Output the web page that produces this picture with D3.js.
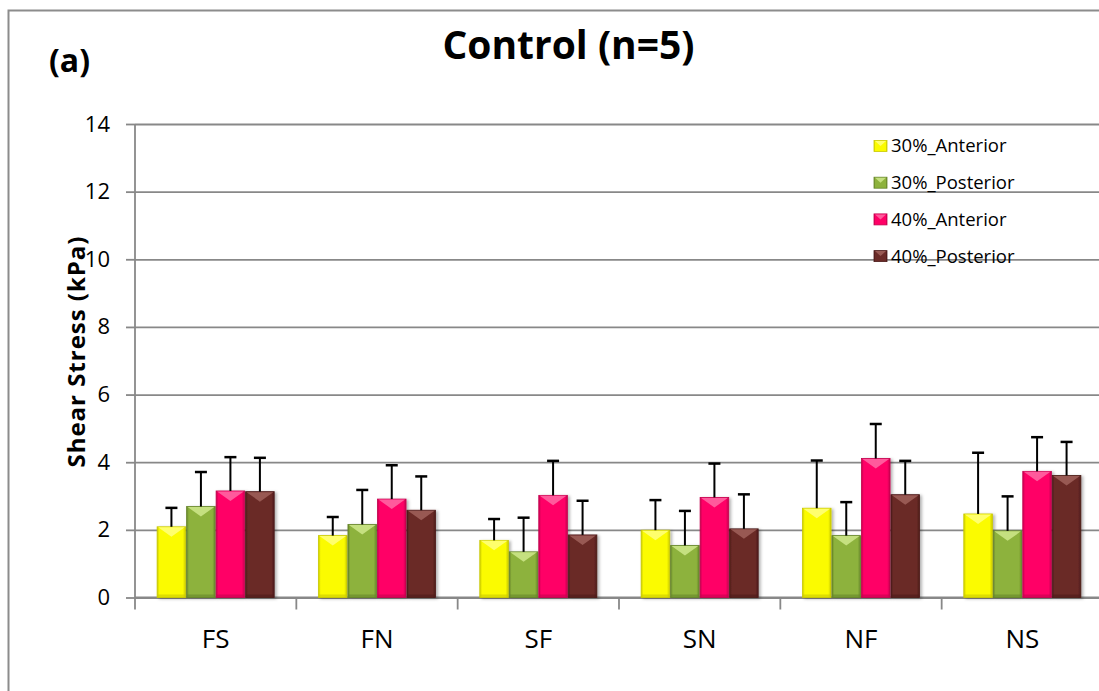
<!DOCTYPE html>
<html>
<head>
<meta charset="utf-8">
<script src="https://cdn.jsdelivr.net/npm/d3@7"></script>
<style>
  body { margin: 0; background: #fff; }
  svg { display: block; font-family: "Open Sans", "Noto Sans", sans-serif; }
</style>
</head>
<body>
<svg width="1099" height="691"></svg>
<script>
// data
const categories = ["FS", "FN", "SF", "SN", "NF", "NS"];
const seriesNames = ["30%_Anterior", "30%_Posterior", "40%_Anterior", "40%_Posterior"];
const ant30 = [2.09, 1.83, 1.69, 1.99, 2.64, 2.47];
const post30 = [2.69, 2.16, 1.35, 1.54, 1.83, 1.97];
const ant40 = [3.15, 2.91, 3.02, 2.96, 4.11, 3.73];
const post40 = [3.13, 2.58, 1.85, 2.03, 3.04, 3.61];
const ant30Sd = [0.56, 0.55, 0.63, 0.89, 1.41, 1.81];
const post30Sd = [1.02, 1.02, 1.01, 1.02, 0.99, 1.02];
const ant40Sd = [1.0, 1.0, 1.02, 1.0, 1.02, 1.01];
const post40Sd = [1.0, 1.0, 1.01, 1.02, 1.0, 0.99];
const yTicks = [0, 2, 4, 6, 8, 10, 12, 14];

const means = [ant30, post30, ant40, post40];
const sds = [ant30Sd, post30Sd, ant40Sd, post40Sd];

// colours: base, light (top bevel), dark (edges)
const colors = [
	{ base: "#fbfb00", light: "#ffff80", dark: "#c9c900" },
	{ base: "#8db23c", light: "#cfe88c", dark: "#66852a" },
	{ base: "#ff0066", light: "#ff6aa6", dark: "#c4004e" },
	{ base: "#6a2a27", light: "#a0615c", dark: "#4c1b19" }
];

const svg = d3.select("svg");
const defs = svg.append("defs");

//* gradients for the bevel look
colors.forEach((c, i) => {
	const g = defs.append("linearGradient").attr("id", "grad" + i).attr("x1", 0).attr("x2", 1).attr("y1", 0).attr("y2", 0);
	g.append("stop").attr("offset", "0%").attr("stop-color", c.dark);
	g.append("stop").attr("offset", "8%").attr("stop-color", c.base);
	g.append("stop").attr("offset", "90%").attr("stop-color", c.base);
	g.append("stop").attr("offset", "100%").attr("stop-color", c.dark);
});
const shadow = defs.append("filter").attr("id", "shadow").attr("x", "-20%").attr("y", "-10%").attr("width", "150%").attr("height", "130%");
shadow.append("feDropShadow").attr("dx", 2).attr("dy", 1).attr("stdDeviation", 1.8).attr("flood-color", "#000").attr("flood-opacity", 0.3);

//* frame
svg.append("rect")
	.attr("x", 8.5).attr("y", 10.5)
	.attr("width", 1300).attr("height", 900)
	.attr("fill", "#fff")
	.attr("stroke", "#8c8c8c")
	.attr("stroke-width", 2);

//* scales
const plot = { left: 135, right: 1103, top: 124, bottom: 597.5 };
const x0 = d3.scaleBand().domain(categories).range([plot.left, plot.right]);
const x1 = d3.scaleBand().domain(seriesNames).range([0, x0.bandwidth()]).paddingOuter(0.75).paddingInner(0.03);
const y = d3.scaleLinear().domain([0, 14]).range([plot.bottom, plot.top]);

//* gridlines
svg.append("g")
	.attr("class", "grid")
	.attr("transform", `translate(${plot.left},0)`)
	.call(d3.axisLeft(y).tickValues(yTicks).tickSize(-(plot.right - plot.left)).tickFormat(""))
	.call((g) => g.select(".domain").remove())
	.call((g) => g.selectAll("line").attr("stroke", "#888").attr("stroke-width", 1.8));

//* y axis
svg.append("g")
	.attr("transform", `translate(${plot.left},0)`)
	.call(d3.axisLeft(y).tickValues(yTicks).tickSize(9).tickPadding(16))
	.call((g) => g.select(".domain").attr("stroke", "#888").attr("stroke-width", 1.8).attr("d", `M0,${plot.top}V${plot.bottom + 12}`))
	.call((g) => g.selectAll("line").attr("stroke", "#888").attr("stroke-width", 1.8))
	.call((g) => g.selectAll("text").attr("font-size", 22).attr("fill", "#000").attr("font-family", "Open Sans"));

//* x axis line and boundary ticks
svg.append("line")
	.attr("x1", plot.left).attr("x2", plot.right)
	.attr("y1", y(0)).attr("y2", y(0))
	.attr("stroke", "#888").attr("stroke-width", 1.8);
svg.selectAll("line.xtick")
	.data(categories.slice(1))
	.enter()
	.append("line")
	.attr("class", "xtick")
	.attr("x1", (d) => x0(d)).attr("x2", (d) => x0(d))
	.attr("y1", y(0)).attr("y2", y(0) + 12)
	.attr("stroke", "#888").attr("stroke-width", 1.8);
svg.selectAll("text.xlab")
	.data(categories)
	.enter()
	.append("text")
	.attr("class", "xlab")
	.attr("x", (d) => x0(d) + x0.bandwidth() / 2)
	.attr("y", 648)
	.attr("text-anchor", "middle")
	.attr("font-size", 26)
	.text((d) => d);

//* bars
const rows = [];
categories.forEach((c, ci) => {
	seriesNames.forEach((s, si) => {
		rows.push({ cat: c, ser: s, si: si, v: means[si][ci], sd: sds[si][ci] });
	});
});

const bars = svg.selectAll("g.bar")
	.data(rows)
	.enter()
	.append("g")
	.attr("class", "bar")
	.attr("transform", (d) => `translate(${x0(d.cat) + x1(d.ser)},0)`);

const bw = x1.bandwidth();
bars.append("rect")
	.attr("x", 0)
	.attr("y", (d) => y(d.v))
	.attr("width", bw)
	.attr("height", (d) => y(0) - y(d.v))
	.attr("fill", (d) => `url(#grad${d.si})`)
	.attr("stroke", (d) => colors[d.si].dark)
	.attr("stroke-width", 0.8)
	.attr("filter", "url(#shadow)");

// top bevel highlight
bars.append("polygon")
	.attr("points", (d) => {
		const t = y(d.v);
		return `1,${t + 0.5} ${bw - 1},${t + 0.5} ${bw / 2},${t + 10}`;
	})
	.attr("fill", (d) => colors[d.si].light)
	.attr("opacity", 0.85);

// bottom bevel band
bars.append("rect")
	.attr("x", 0.5)
	.attr("y", y(0) - 3)
	.attr("width", bw - 1)
	.attr("height", 3)
	.attr("fill", (d) => colors[d.si].dark)
	.attr("opacity", 0.6);

//* error bars
bars.append("line")
	.attr("x1", bw / 2).attr("x2", bw / 2)
	.attr("y1", (d) => y(d.v))
	.attr("y2", (d) => y(d.v + d.sd))
	.attr("stroke", "#000").attr("stroke-width", 2);
bars.append("line")
	.attr("x1", bw / 2 - 6).attr("x2", bw / 2 + 6)
	.attr("y1", (d) => y(d.v + d.sd))
	.attr("y2", (d) => y(d.v + d.sd))
	.attr("stroke", "#000").attr("stroke-width", 2.5);

//* legend
const legend = svg.selectAll("g.legend")
	.data(seriesNames)
	.enter()
	.append("g")
	.attr("class", "legend")
	.attr("transform", (_, i) => `translate(874, ${146 + i * 36.7})`);
legend.append("rect")
	.attr("x", 0).attr("y", -5.5)
	.attr("width", 13).attr("height", 11)
	.attr("fill", (_, i) => `url(#grad${i})`)
	.attr("stroke", (_, i) => colors[i].dark)
	.attr("stroke-width", 0.8);
legend.append("polygon")
	.attr("points", "1,-5 12,-5 6.5,0")
	.attr("fill", (_, i) => colors[i].light)
	.attr("opacity", 0.85);
legend.append("text")
	.attr("x", 17)
	.attr("y", 0)
	.attr("dy", "0.35em")
	.attr("font-size", 18.5)
	.text((d) => d);

//* titles
svg.append("text")
	.attr("x", 568.5)
	.attr("y", 59)
	.attr("text-anchor", "middle")
	.attr("font-size", 39)
	.attr("font-weight", "bold")
	.text("Control (n=5)");
svg.append("text")
	.attr("x", 49)
	.attr("y", 72)
	.attr("font-size", 32)
	.attr("font-weight", "bold")
	.text("(a)");
svg.append("text")
	.attr("transform", "translate(77,352) rotate(-90)")
	.attr("text-anchor", "middle")
	.attr("dy", "0.35em")
	.attr("font-size", 24)
	.attr("font-weight", "bold")
	.attr("textLength", 231)
	.text("Shear Stress (kPa)");
</script>
</body>
</html>
